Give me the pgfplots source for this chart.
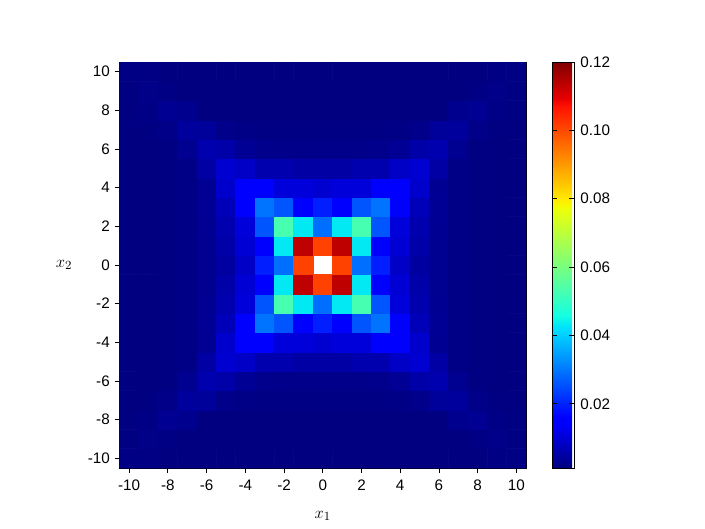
\documentclass[border=0pt]{standalone}
\usepackage{fontspec}
\setmainfont{Liberation Sans}
\usepackage{pgfplots}
\pgfplotsset{compat=1.18}
\begin{document}
\begin{tikzpicture}[x=1bp,y=1bp]
  % page is 705x528 px, 1 px = 0.72 bp; axis box at (119.5,468)-(526,62)
  \path[use as bounding box] (-86.04,-43.2) rectangle (421.56,336.96);
  \begin{axis}[
    scale only axis,
    width=292.7bp, height=292.3bp,
    xmin=-10.5, xmax=10.5, ymin=-10.5, ymax=10.5,
    xtick={-10,-8,...,10}, ytick={-10,-8,...,10},
    tick align=outside, tick pos=left,
    major tick length=3.5bp,
    every tick/.style={black, line width=0.6bp},
    axis line style={line width=0.6bp},
    tick label style={font=\fontsize{11}{13}\selectfont},
    xticklabel style={yshift=-1.5bp},
    /pgf/number format/assume math mode=true,
    axis background/.style={fill=white},
    xlabel={$x_1$}, ylabel={$x_2$},
    every axis x label/.style={at={(axis description cs:0.5,0)}, anchor=center, yshift=-34.5bp, font=\fontsize{13}{15}\selectfont},
    every axis y label/.style={at={(axis description cs:0,0.5)}, anchor=center, xshift=-40bp, font=\fontsize{13}{15}\selectfont},
    colormap={mpljet}{
      rgb(0)=(0,0,.5) rgb(11)=(0,0,1) rgb(12.5)=(0,0,1) rgb(34)=(0,.86,1)
      rgb(35)=(0,.9,.968) rgb(37.5)=(.081,1,.887) rgb(64)=(.935,1,.032)
      rgb(65)=(.968,.963,0) rgb(66)=(1,.926,0) rgb(89)=(1,.074,0)
      rgb(91)=(.909,0,0) rgb(100)=(.5,0,0)},
    point meta min=0.0012, point meta max=0.12,
    colorbar,
    colorbar style={
      at={(1.0652,1)}, anchor=north west,
      width=15.5bp,
      ytick={0.02,0.04,0.06,0.08,0.10,0.12},
      yticklabel pos=right,
      scaled y ticks=false,
      /pgf/number format/assume math mode=true,
      yticklabel style={font=\fontsize{11}{13}\selectfont, xshift=1bp,
        /pgf/number format/assume math mode=true,
        /pgf/number format/fixed, /pgf/number format/fixed zerofill, /pgf/number format/precision=2},
      major tick length=3.5bp,
      every tick/.style={black, line width=0.6bp},
      axis line style={line width=0.6bp},
    },
  ]
    \addplot[matrix plot*, mesh/cols=21, point meta=explicit, unbounded coords=jump]
      table[header=false, row sep=\\, x expr={mod(\coordindex,21)-10}, y expr={int(\coordindex/21)-10}, meta index=0] {
.0018\\.0018\\.0014\\.0012\\.0012\\.0012\\.0012\\.0012\\.0012\\.0012\\.0012\\.0012\\.0012\\.0012\\.0012\\.0012\\.0012\\.0012\\.0014\\.0018\\.0018\\
.0016\\.0022\\.0018\\.0013\\.0012\\.0012\\.0012\\.0012\\.0012\\.0012\\.0012\\.0012\\.0012\\.0012\\.0012\\.0012\\.0012\\.0013\\.0018\\.0022\\.0016\\
.0016\\.0019\\.0032\\.0028\\.0013\\.0012\\.0012\\.0012\\.0012\\.0012\\.0012\\.0012\\.0012\\.0012\\.0012\\.0012\\.0013\\.0028\\.0032\\.0019\\.0016\\
.0014\\.0016\\.0022\\.0042\\.0040\\.0024\\.0020\\.0018\\.0018\\.0018\\.0018\\.0018\\.0018\\.0018\\.0020\\.0024\\.0040\\.0042\\.0022\\.0016\\.0014\\
.0014\\.0014\\.0016\\.0030\\.0060\\.0055\\.0034\\.0026\\.0024\\.0024\\.0024\\.0024\\.0024\\.0026\\.0034\\.0055\\.0060\\.0030\\.0016\\.0014\\.0014\\
.0014\\.0014\\.0016\\.0019\\.0050\\.0095\\.0085\\.0060\\.0060\\.0050\\.0050\\.0050\\.0060\\.0060\\.0085\\.0095\\.0050\\.0019\\.0016\\.0014\\.0014\\
.0014\\.0014\\.0016\\.0019\\.0032\\.0090\\.0155\\.0143\\.0105\\.0105\\.0095\\.0105\\.0105\\.0143\\.0155\\.0090\\.0032\\.0019\\.0016\\.0014\\.0014\\
.0014\\.0014\\.0016\\.0019\\.0034\\.0070\\.0143\\.0295\\.0259\\.0143\\.0195\\.0143\\.0259\\.0295\\.0143\\.0070\\.0034\\.0019\\.0016\\.0014\\.0014\\
.0014\\.0014\\.0016\\.0019\\.0032\\.0060\\.0105\\.0259\\.0529\\.0432\\.0289\\.0432\\.0529\\.0259\\.0105\\.0060\\.0032\\.0019\\.0016\\.0014\\.0014\\
.0014\\.0014\\.0016\\.0019\\.0030\\.0055\\.0100\\.0143\\.0432\\.1135\\.1010\\.1135\\.0432\\.0143\\.0100\\.0055\\.0030\\.0019\\.0016\\.0014\\.0014\\
.0014\\.0014\\.0016\\.0019\\.0030\\.0045\\.0085\\.0195\\.0289\\.1010\\nan\\.1010\\.0289\\.0195\\.0085\\.0045\\.0030\\.0019\\.0016\\.0014\\.0014\\
.0014\\.0014\\.0016\\.0019\\.0030\\.0055\\.0100\\.0143\\.0432\\.1135\\.1010\\.1135\\.0432\\.0143\\.0100\\.0055\\.0030\\.0019\\.0016\\.0014\\.0014\\
.0014\\.0014\\.0016\\.0019\\.0032\\.0060\\.0105\\.0259\\.0529\\.0432\\.0289\\.0432\\.0529\\.0259\\.0105\\.0060\\.0032\\.0019\\.0016\\.0014\\.0014\\
.0014\\.0014\\.0016\\.0019\\.0034\\.0070\\.0143\\.0295\\.0259\\.0143\\.0195\\.0143\\.0259\\.0295\\.0143\\.0070\\.0034\\.0019\\.0016\\.0014\\.0014\\
.0014\\.0014\\.0016\\.0019\\.0032\\.0090\\.0155\\.0143\\.0105\\.0105\\.0095\\.0105\\.0105\\.0143\\.0155\\.0090\\.0032\\.0019\\.0016\\.0014\\.0014\\
.0014\\.0014\\.0016\\.0019\\.0050\\.0095\\.0085\\.0060\\.0060\\.0050\\.0050\\.0050\\.0060\\.0060\\.0085\\.0095\\.0050\\.0019\\.0016\\.0014\\.0014\\
.0014\\.0014\\.0016\\.0030\\.0060\\.0055\\.0034\\.0026\\.0024\\.0024\\.0024\\.0024\\.0024\\.0026\\.0034\\.0055\\.0060\\.0030\\.0016\\.0014\\.0014\\
.0014\\.0016\\.0022\\.0042\\.0040\\.0024\\.0020\\.0018\\.0018\\.0018\\.0018\\.0018\\.0018\\.0018\\.0020\\.0024\\.0040\\.0042\\.0022\\.0016\\.0014\\
.0016\\.0019\\.0032\\.0028\\.0013\\.0012\\.0012\\.0012\\.0012\\.0012\\.0012\\.0012\\.0012\\.0012\\.0012\\.0012\\.0013\\.0028\\.0032\\.0019\\.0016\\
.0016\\.0022\\.0018\\.0013\\.0012\\.0012\\.0012\\.0012\\.0012\\.0012\\.0012\\.0012\\.0012\\.0012\\.0012\\.0012\\.0012\\.0013\\.0018\\.0022\\.0016\\
.0018\\.0018\\.0014\\.0012\\.0012\\.0012\\.0012\\.0012\\.0012\\.0012\\.0012\\.0012\\.0012\\.0012\\.0012\\.0012\\.0012\\.0012\\.0014\\.0018\\.0018\\
};
  \end{axis}
\end{tikzpicture}
\end{document}
